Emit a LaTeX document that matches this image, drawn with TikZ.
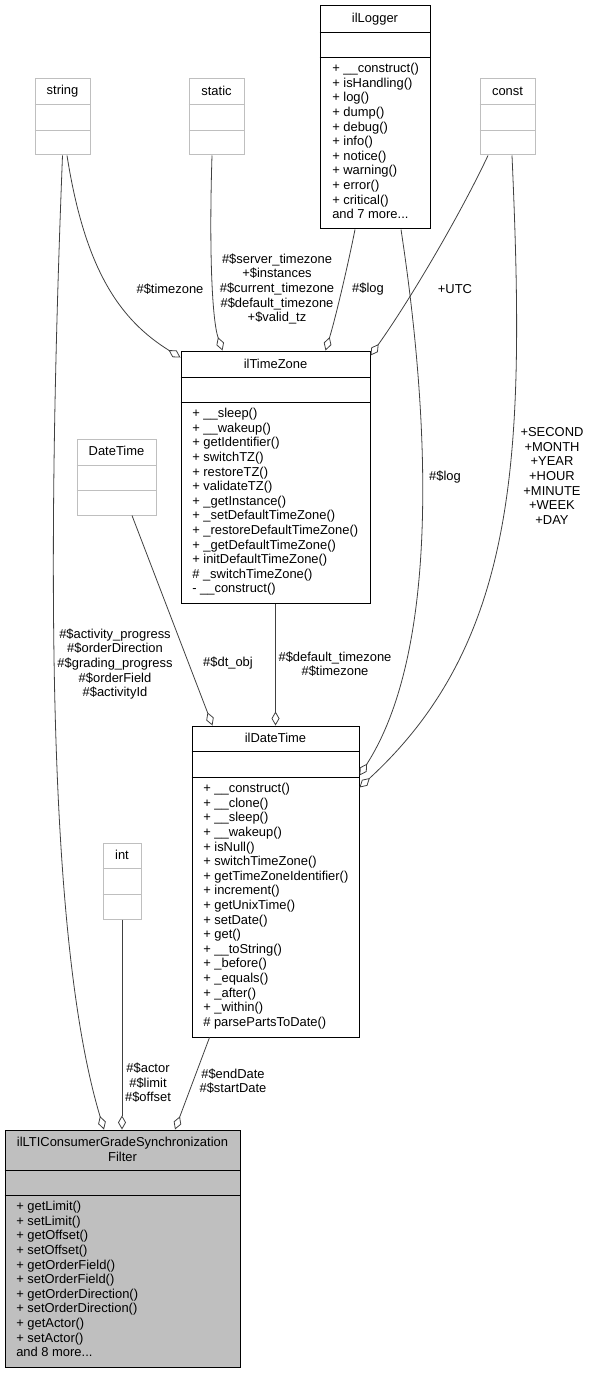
\documentclass[tikz,border=0pt]{standalone}
\usepackage{fontspec}
\setmainfont{Liberation Sans}
\usepackage{tikz}
\usetikzlibrary{arrows.meta,fit}
\tikzstyle{cls}=[draw=black,inner sep=0pt,line width=0.75pt]
\tikzstyle{ext}=[draw=black!25,inner sep=0pt,line width=0.75pt]
\tikzstyle{txt}=[inner sep=0pt,align=center]
\tikzstyle{ops}=[inner sep=0pt,align=left,anchor=north west]
\tikzstyle{edge} = [draw,color=black!75,line width=0.6pt,-{Diamond[open,length=10.5pt,width=6pt]}]

\begin{document}
\begin{tikzpicture}[x=0.75pt,y=-0.75pt,font=\fontsize{9.7}{10.95}\selectfont]
        \useasboundingbox (0,0) rectangle (593,1373);
        % plain types
        \node[ext,fit={(35,79) (90,155)}] (tstring) {};
        \node[txt] (tstringname) at (62.5,91) {string};
        \draw[black!25] (tstring.west |- 0,104) -- (tstring.east |- 0,104);
        \draw[black!25] (tstring.west |- 0,130) -- (tstring.east |- 0,130);
        \node[ext,fit={(189,79) (244,155)}] (tstatic) {};
        \node[txt] (tstaticname) at (216.5,91) {static};
        \draw[black!25] (tstatic.west |- 0,104) -- (tstatic.east |- 0,104);
        \draw[black!25] (tstatic.west |- 0,130) -- (tstatic.east |- 0,130);
        \node[ext,fit={(480,79) (535,155)}] (tconst) {};
        \node[txt] (tconstname) at (507.5,91) {const};
        \draw[black!25] (tconst.west |- 0,104) -- (tconst.east |- 0,104);
        \draw[black!25] (tconst.west |- 0,130) -- (tconst.east |- 0,130);
        \node[ext,fit={(77,439) (156,515)}] (phpdt) {};
        \node[txt] (phpdtname) at (116.5,451) {DateTime};
        \draw[black!25] (phpdt.west |- 0,465) -- (phpdt.east |- 0,465);
        \draw[black!25] (phpdt.west |- 0,490) -- (phpdt.east |- 0,490);
        \node[ext,fit={(103,843) (141,919)}] (tint) {};
        \node[txt] (tintname) at (122,855) {int};
        \draw[black!25] (tint.west |- 0,868) -- (tint.east |- 0,868);
        \draw[black!25] (tint.west |- 0,894) -- (tint.east |- 0,894);
        % classes
        \node[cls,fit={(320,6) (430,229)}] (logger) {};
        \node[txt] (loggername) at (375,19) {ilLogger};
        \draw (logger.west |- 0,32) -- (logger.east |- 0,32);
        \draw (logger.west |- 0,57) -- (logger.east |- 0,57);
        \node[ops] (loggerops) at (332,63) {+ \_\_construct()\\+ isHandling()\\+ log()\\+ dump()\\+ debug()\\+ info()\\+ notice()\\+ warning()\\+ error()\\+ critical()\\and 7 more...};
        \node[cls,fit={(181,351) (370,603)}] (timezone) {};
        \node[txt] (timezonename) at (275.5,364) {ilTimeZone};
        \draw (timezone.west |- 0,377) -- (timezone.east |- 0,377);
        \draw (timezone.west |- 0,402) -- (timezone.east |- 0,402);
        \node[ops] (timezoneops) at (192,408) {+ \_\_sleep()\\+ \_\_wakeup()\\+ getIdentifier()\\+ switchTZ()\\+ restoreTZ()\\+ validateTZ()\\+ \_getInstance()\\+ \_setDefaultTimeZone()\\+ \_restoreDefaultTimeZone()\\+ \_getDefaultTimeZone()\\+ initDefaultTimeZone()\\\# \_switchTimeZone()\\- \_\_construct()};
        \node[cls,fit={(192,726) (359,1037)}] (datetime) {};
        \node[txt] (datetimename) at (275.5,738) {ilDateTime};
        \draw (datetime.west |- 0,751) -- (datetime.east |- 0,751);
        \draw (datetime.west |- 0,777) -- (datetime.east |- 0,777);
        \node[ops] (datetimeops) at (203,783) {+ \_\_construct()\\+ \_\_clone()\\+ \_\_sleep()\\+ \_\_wakeup()\\+ isNull()\\+ switchTimeZone()\\+ getTimeZoneIdentifier()\\+ increment()\\+ getUnixTime()\\+ setDate()\\+ get()\\+ \_\_toString()\\+ \_before()\\+ \_equals()\\+ \_after()\\+ \_within()\\\# parsePartsToDate()};
        \node[cls,fill=black!25,fit={(5,1130) (240,1367)}] (filter) {};
        \node[txt] (filtername) at (122.5,1149.5) {ilLTIConsumerGradeSynchronization\\Filter};
        \draw (filter.west |- 0,1170) -- (filter.east |- 0,1170);
        \draw (filter.west |- 0,1195) -- (filter.east |- 0,1195);
        \node[ops] (filterops) at (16,1201) {+ getLimit()\\+ setLimit()\\+ getOffset()\\+ setOffset()\\+ getOrderField()\\+ setOrderField()\\+ getOrderDirection()\\+ setOrderDirection()\\+ getActor()\\+ setActor()\\and 8 more...};
        % members
        \draw[edge] ([shift={(4.5,0)}]tstring.south) .. controls (85,270) and (120,320) .. ([shift={(0,7)}]timezone.north west);
        \draw[edge] (tstring.south) .. controls (45,600) and (50,950) .. ([shift={(-18.5,0)}]filter.north);
        \draw[edge] ([shift={(-4.5,0)}]tstatic.south) .. controls (209,250) and (212,320) .. ([shift={(42,0)}]timezone.north west);
        \draw[edge] ([shift={(-20,0)}]logger.south) .. controls (348,265) and (335,320) .. ([shift={(145,0)}]timezone.north west);
        \draw[edge] ([shift={(26,0)}]logger.south) .. controls (430,420) and (440,650) .. ([shift={(0,50)}]datetime.north east);
        \draw[edge] ([shift={(-19.5,0)}]tconst.south) .. controls (460,215) and (410,300) .. ([shift={(0,5)}]timezone.north east);
        \draw[edge] ([shift={(4.5,0)}]tconst.south) .. controls (525,450) and (520,640) .. ([shift={(0,62)}]datetime.north east);
        \draw[edge] ([shift={(15.5,0)}]phpdt.south) -- ([shift={(21,0)}]datetime.north west);
        \draw[edge] (timezone.south) -- (datetime.north);
        \draw[edge] (tint.south) -- (tint.south |- filter.north);
        \draw[edge] ([shift={(18,0)}]datetime.south west) -- ([shift={(52.5,0)}]filter.north);
        % member names
        \node[txt] (lbltz) at (170,289) {\#\$timezone};
        \node[txt] (lblstatic) at (277,289) {\#\$server\_timezone\\+\$instances\\\#\$current\_timezone\\\#\$default\_timezone\\+\$valid\_tz};
        \node[txt] (lbllog) at (368,289) {\#\$log};
        \node[txt] (lblutc) at (455,289) {+UTC};
        \node[txt] (lbllog2) at (445,477) {\#\$log};
        \node[txt] (lblconst) at (552,476) {+SECOND\\+MONTH\\+YEAR\\+HOUR\\+MINUTE\\+WEEK\\+DAY};
        \node[txt] (lblstring) at (115,664) {\#\$activity\_progress\\\#\$orderDirection\\\#\$grading\_progress\\\#\$orderField\\\#\$activityId};
        \node[txt] (lbldt) at (228,663) {\#\$dt\_obj};
        \node[txt] (lbltz2) at (335,664) {\#\$default\_timezone\\\#\$timezone};
        \node[txt] (lblint) at (148,1083) {\#\$actor\\\#\$limit\\\#\$offset};
        \node[txt] (lbldate) at (233,1081) {\#\$endDate\\\#\$startDate};
      \end{tikzpicture}
\end{document}
